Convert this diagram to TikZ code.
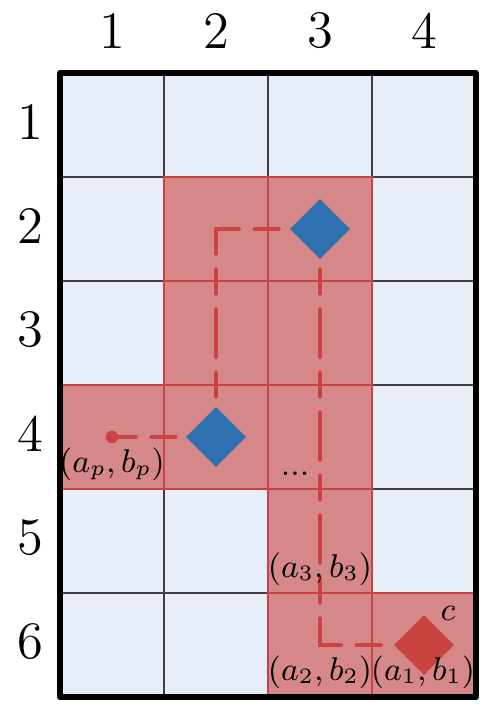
\documentclass[tikz,border=0pt]{standalone}
\usetikzlibrary{shapes.geometric}
\definecolor{cellblue}{RGB}{232,238,247}
\definecolor{cellred}{RGB}{214,135,135}
\definecolor{edgered}{RGB}{201,67,67}
\definecolor{gridgray}{RGB}{64,64,66}
\definecolor{gemblue}{RGB}{46,112,176}
\definecolor{gemred}{RGB}{200,66,62}
\begin{document}
\begin{tikzpicture}[y=-1cm,
    numlab/.style={font=\Large,inner sep=0pt},
    poslab/.style={font=\fontsize{9}{11}\selectfont,inner sep=0pt},
    gem/.style={diamond,inner sep=0pt,minimum size=.58cm},
    trail/.style={edgered,line width=1.35pt,line cap=round,
      dash pattern=on 6.4pt off 4.5pt on 12.8pt off 4.5pt,dash phase=25.5pt}]
  \useasboundingbox (-.577,-.702) rectangle (4.115,6.125);
  % board
  \fill[cellblue] (0,0) rectangle (4,6);
  \draw[gridgray,line width=.75pt] (0,0) grid (4,6);
  \foreach \c/\r in {2/2,3/2,2/3,3/3,1/4,2/4,3/4,3/5,3/6,4/6}
    \draw[fill=cellred,draw=edgered,line width=.8pt] (\c-1,\r-1) rectangle (\c,\r);
  \draw[line width=1.7pt,line join=round] (0,0) rectangle (4,6);
  % indices
  \foreach \c in {1,...,4}
    \node[numlab] (col\c) at (\c-.5,-.405) {\c};
  \foreach \r in {1,...,6}
    \node[numlab] (row\r) at (-.28,\r-.53) {\r};
  % pieces
  \node[circle,fill=edgered,inner sep=0pt,minimum size=.12cm] (ap) at (.5,3.5) {};
  \node[gem,fill=gemblue] (gp) at (1.5,3.5) {};
  \node[gem,fill=gemblue] (gb) at (2.5,1.5) {};
  \node[gem,fill=gemred] (gc) at (3.5,5.5) {};
  \coordinate (bendA) at (1.5,1.5);
  \coordinate (bendB) at (2.5,5.5);
  \draw[trail] (gp) -- (ap) (gp) -- (bendA) -- (gb) (gb) -- (bendB) -- (gc);
  % labels
  \node[poslab] (lp) at (.5,3.76) {$(a_p, b_p)$};
  \node[poslab] (l3) at (2.5,4.77) {$(a_3, b_3)$};
  \node[poslab] (l2) at (2.5,5.76) {$(a_2, b_2)$};
  \node[poslab] (l1) at (3.49,5.76) {$(a_1, b_1)$};
  \node[poslab] (lc) at (3.73,5.2) {$c$};
  \node[poslab] (ldots) at (2.26,3.855) {...};
\end{tikzpicture}
\end{document}
